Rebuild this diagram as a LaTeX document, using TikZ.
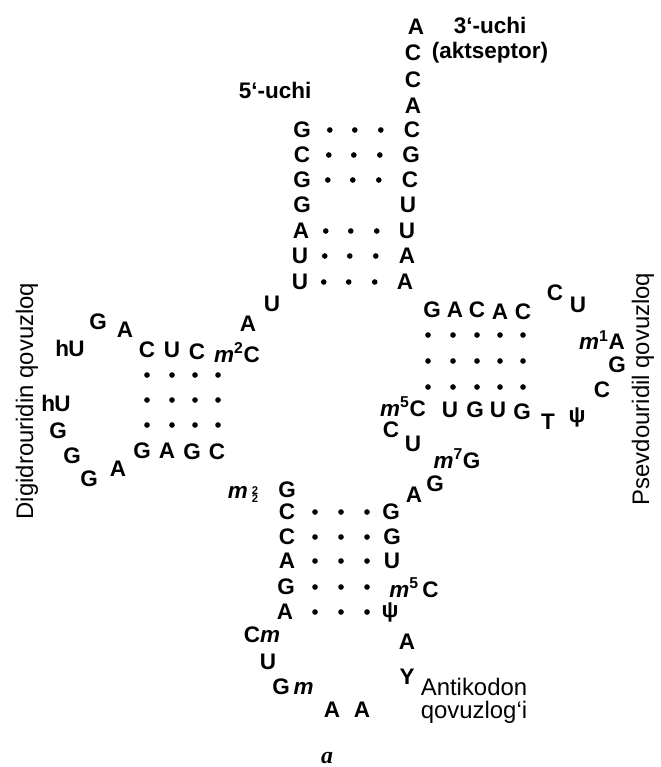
\documentclass[tikz,border=0pt]{standalone}
\usepackage{fontspec}
\setmainfont{Liberation Sans}
\newfontfamily\serifit{Liberation Serif}
\newcommand\msup[1]{\textit{m}\textsuperscript{#1}}
\tikzset{
  nt/.style={font=\fontsize{16}{16}\selectfont\bfseries, inner sep=0pt},
  lbl/.style={font=\fontsize{17}{16.5}\selectfont, inner sep=0pt},
  bp/.style={fill=black}
}
\begin{document}
\begin{tikzpicture}[x=0.025cm,y=-0.025cm]
  \useasboundingbox (0,0) rectangle (661,767);
  % acceptor stem
  \foreach \name/\x/\y/\t in {a1/302/130/G, a2/302/155/C, a3/302/180/G, a4/302/205/G, a5/301/231/A, a6/300/256/U, a7/300/282/U,
    b1/416/27/A, b2/413/53/C, b3/413/80/C, b4/413/106/A, b5/412/130/C, b6/411/155/G, b7/410/180/C, b8/408/205/U, b9/407/231/U, b10/407/256/A, b11/405/282/A} {
    \node[nt] (\name) at (\x,\y) {\t};
  }
  \foreach \y in {130,155,180,231,256,282} {
    \foreach \x in {330,355,381} {
      \fill[bp] (\x-0.04*\y+5,\y) circle (2pt);
    }
  }
  \node[nt] (end3) at (490,25) {3‘-uchi};
  \node[nt] (akt) at (490,53) {(aktseptor)};
  \node[nt] (end5) at (275,90) {5‘-uchi};
  % D arm
  \foreach \name/\x/\y/\t in {j1/272/304/U, j2/248/324/A, d1/237/353/\msup{2}C, d2/197/352/C, d3/172/350/U, d4/147/350/C,
    l1/125/330/A, l2/98/322/G, l3/70/348/h\kern-0.5ptU, l4/56/403/h\kern-0.5ptU, l5/58/431/G, l6/72/456/G, l7/89/479/G, l8/118/469/A,
    e1/142/451/G, e2/167/451/A, e3/192/452/G, e4/217/452/C} {
    \node[nt] (\name) at (\x,\y) {\t};
  }
  \foreach \y in {375,400,425} {
    \foreach \x in {147,172,195,218} {
      \fill[bp] (\x,\y) circle (2pt);
    }
  }
  \node[lbl, rotate=90] (dloop) at (27,401) {Digidrouridin qovuzloq};
  % anticodon arm
  \node[nt] (m22) at (243,496) {\textit{m}\,{\fontsize{8}{7}\selectfont\begin{tabular}[c]{@{}c@{}}2\\[-2.5pt]2\end{tabular}}};
  \foreach \name/\x/\y/\t in {c1/287/490/G, c2/287/512/C, c3/287/537/C, c4/287/561/A, c5/286/587/G, c6/285/612/A,
    k1/262/635/C\textit{m}, k2/268/662/U, k3/293/687/G\,\textit{m}, k4/332/710/A, k5/362/710/A, k6/407/677/Y, k7/407/642/A,
    g1/391/512/G, g2/392/537/G, g3/392/561/U, g4/414/588/\msup{5}\,C, g5/390/612/ψ} {
    \node[nt] (\name) at (\x,\y) {\t};
  }
  \foreach \y in {512,537,561,587,612} {
    \foreach \x in {315,341,367} {
      \fill[bp] (\x,\y) circle (2pt);
    }
  }
  \node[lbl, align=center] (anti) at (474,701) {Antikodon\\qovuzlog‘i};
  % variable loop and T arm
  \foreach \name/\x/\y/\t in {v1/414/495/A, v2/435/484/G, v3/457/459/\msup{7}G, v4/413/444/U, v5/391/430/C,
    t1/403/407/\msup{5}C, t2/450/410/U, t3/475/410/G, t4/498/410/U, t5/522/412/G, t6/548/422/T, t7/577/417/ψ,
    t8/602/390/C, t9/617/365/G, t10/602/340/\msup{1}A, t11/578/305/U, t12/555/293/C,
    s1/523/312/C, s2/500/312/A, s3/477/310/C, s4/455/310/A, s5/432/310/G} {
    \node[nt] (\name) at (\x,\y) {\t};
  }
  \foreach \y in {335,361,387} {
    \foreach \x in {428,453,477,500,523} {
      \fill[bp] (\x,\y) circle (2pt);
    }
  }
  \node[lbl, rotate=90] (tloop) at (643,389) {Psevdouridil qovuzloq};
  \node[font=\fontsize{17}{17}\serifit\bfseries\itshape, inner sep=0pt] (fig) at (327,758) {a};
\end{tikzpicture}
\end{document}
